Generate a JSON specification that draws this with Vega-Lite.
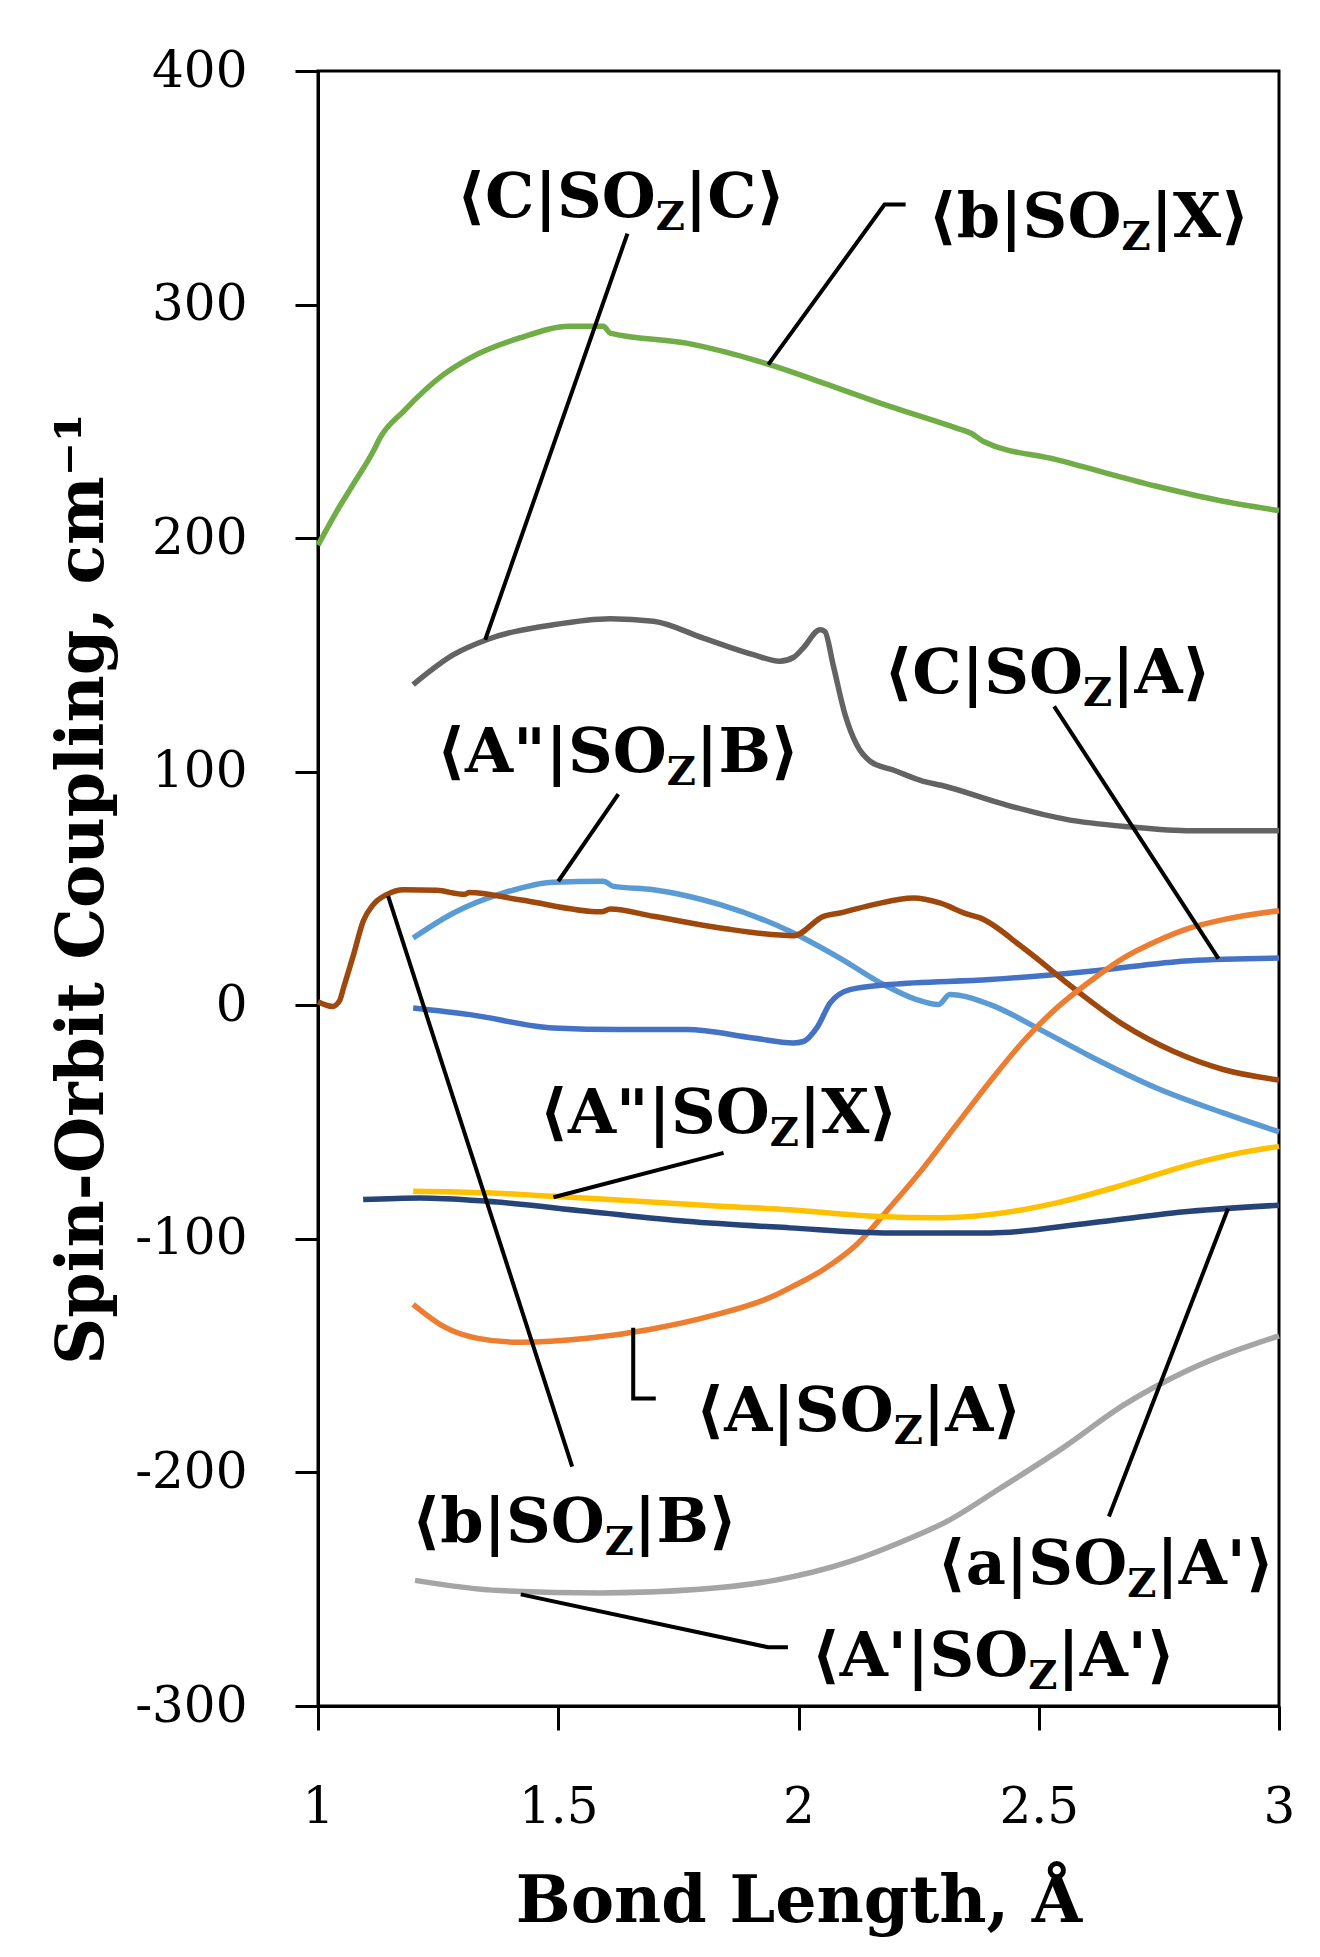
{
  "$schema": "https://vega.github.io/schema/vega-lite/v6.json",
  "autosize": {"type": "none"},
  "width": 961,
  "height": 1635,
  "padding": {"left": 318, "top": 71, "right": 41, "bottom": 251},
  "background": "white",
  "config": {
    "view": {"stroke": "black", "strokeWidth": 3},
    "axis": {
      "grid": false,
      "domainColor": "black",
      "domainWidth": 3,
      "tickColor": "black",
      "tickWidth": 3,
      "tickSize": 23,
      "labelFont": "DejaVu Serif",
      "labelFontSize": 50,
      "labelColor": "black",
      "labelFlush": false,
      "titleFont": "DejaVu Serif",
      "titleFontSize": 65,
      "titleFontWeight": "bold",
      "titleColor": "black"
    }
  },
  "datasets": {
    "curves": [
      {"s": "bX", "x": 1.0, "y": 197}, {"s": "bX", "x": 1.039, "y": 211.5}, {"s": "bX", "x": 1.073, "y": 222.9},
      {"s": "bX", "x": 1.115, "y": 237.2}, {"s": "bX", "x": 1.129, "y": 242.9}, {"s": "bX", "x": 1.178, "y": 254.3},
      {"s": "bX", "x": 1.261, "y": 270.0}, {"s": "bX", "x": 1.316, "y": 277.1}, {"s": "bX", "x": 1.42, "y": 285.7},
      {"s": "bX", "x": 1.524, "y": 290.7}, {"s": "bX", "x": 1.594, "y": 290.7}, {"s": "bX", "x": 1.608, "y": 287.8},
      {"s": "bX", "x": 1.767, "y": 283.5}, {"s": "bX", "x": 1.94, "y": 274.3}, {"s": "bX", "x": 2.052, "y": 266.4},
      {"s": "bX", "x": 2.19, "y": 256.4}, {"s": "bX", "x": 2.329, "y": 247.1}, {"s": "bX", "x": 2.36, "y": 244.8},
      {"s": "bX", "x": 2.385, "y": 241.4}, {"s": "bX", "x": 2.537, "y": 233.6}, {"s": "bX", "x": 2.745, "y": 222.2},
      {"s": "bX", "x": 2.884, "y": 215.8}, {"s": "bX", "x": 3.0, "y": 211.8},

      {"s": "CC", "x": 1.198, "y": 137.3}, {"s": "CC", "x": 1.282, "y": 150.1}, {"s": "CC", "x": 1.351, "y": 156.5},
      {"s": "CC", "x": 1.49, "y": 162.9}, {"s": "CC", "x": 1.608, "y": 165.5}, {"s": "CC", "x": 1.698, "y": 164.4},
      {"s": "CC", "x": 1.802, "y": 157.2}, {"s": "CC", "x": 1.906, "y": 150.1}, {"s": "CC", "x": 1.961, "y": 147.3},
      {"s": "CC", "x": 1.99, "y": 149.0}, {"s": "CC", "x": 2.01, "y": 153.0}, {"s": "CC", "x": 2.045, "y": 160.8},
      {"s": "CC", "x": 2.055, "y": 160.0}, {"s": "CC", "x": 2.072, "y": 145.8}, {"s": "CC", "x": 2.097, "y": 124.4},
      {"s": "CC", "x": 2.121, "y": 111.6}, {"s": "CC", "x": 2.149, "y": 104.5}, {"s": "CC", "x": 2.2, "y": 100.5},
      {"s": "CC", "x": 2.26, "y": 95.9}, {"s": "CC", "x": 2.297, "y": 94.2}, {"s": "CC", "x": 2.427, "y": 86.1},
      {"s": "CC", "x": 2.557, "y": 79.6}, {"s": "CC", "x": 2.688, "y": 76.4}, {"s": "CC", "x": 2.818, "y": 74.7},
      {"s": "CC", "x": 3.0, "y": 74.7},

      {"s": "AB", "x": 1.198, "y": 28.8}, {"s": "AB", "x": 1.282, "y": 39.5}, {"s": "AB", "x": 1.386, "y": 48.1},
      {"s": "AB", "x": 1.49, "y": 52.7}, {"s": "AB", "x": 1.594, "y": 53.1}, {"s": "AB", "x": 1.615, "y": 50.9},
      {"s": "AB", "x": 1.698, "y": 49.5}, {"s": "AB", "x": 1.837, "y": 43.1}, {"s": "AB", "x": 1.982, "y": 31.7},
      {"s": "AB", "x": 2.086, "y": 20.2}, {"s": "AB", "x": 2.177, "y": 8.9}, {"s": "AB", "x": 2.246, "y": 2.4},
      {"s": "AB", "x": 2.291, "y": 0.3}, {"s": "AB", "x": 2.315, "y": 4.6}, {"s": "AB", "x": 2.399, "y": 0.3},
      {"s": "AB", "x": 2.503, "y": -10.4}, {"s": "AB", "x": 2.607, "y": -21.8}, {"s": "AB", "x": 2.745, "y": -35.4},
      {"s": "AB", "x": 2.884, "y": -46.1}, {"s": "AB", "x": 3.0, "y": -54.2},

      {"s": "CA", "x": 1.198, "y": -1.2}, {"s": "CA", "x": 1.316, "y": -4.0}, {"s": "CA", "x": 1.49, "y": -9.7},
      {"s": "CA", "x": 1.628, "y": -10.4}, {"s": "CA", "x": 1.767, "y": -10.4}, {"s": "CA", "x": 1.906, "y": -14.0},
      {"s": "CA", "x": 1.989, "y": -16.1}, {"s": "CA", "x": 2.01, "y": -15.5}, {"s": "CA", "x": 2.038, "y": -9.7},
      {"s": "CA", "x": 2.066, "y": 1.0}, {"s": "CA", "x": 2.107, "y": 6.7}, {"s": "CA", "x": 2.19, "y": 8.9},
      {"s": "CA", "x": 2.399, "y": 11.0}, {"s": "CA", "x": 2.607, "y": 14.6}, {"s": "CA", "x": 2.815, "y": 19.1},
      {"s": "CA", "x": 3.0, "y": 20.2},

      {"s": "bB", "x": 1.0, "y": 1.5}, {"s": "bB", "x": 1.03, "y": -0.5}, {"s": "bB", "x": 1.045, "y": 2.0},
      {"s": "bB", "x": 1.053, "y": 7.4}, {"s": "bB", "x": 1.074, "y": 21.7}, {"s": "bB", "x": 1.094, "y": 36.0},
      {"s": "bB", "x": 1.115, "y": 43.1}, {"s": "bB", "x": 1.143, "y": 47.4}, {"s": "bB", "x": 1.178, "y": 49.5},
      {"s": "bB", "x": 1.247, "y": 49.2}, {"s": "bB", "x": 1.305, "y": 47.5}, {"s": "bB", "x": 1.315, "y": 48.3},
      {"s": "bB", "x": 1.42, "y": 45.2}, {"s": "bB", "x": 1.59, "y": 40.0}, {"s": "bB", "x": 1.608, "y": 41.2},
      {"s": "bB", "x": 1.698, "y": 38.1}, {"s": "bB", "x": 1.837, "y": 33.1}, {"s": "bB", "x": 1.99, "y": 29.8},
      {"s": "bB", "x": 2.052, "y": 38.1}, {"s": "bB", "x": 2.086, "y": 39.5}, {"s": "bB", "x": 2.156, "y": 43.1},
      {"s": "bB", "x": 2.239, "y": 45.9}, {"s": "bB", "x": 2.294, "y": 43.8}, {"s": "bB", "x": 2.35, "y": 39.1},
      {"s": "bB", "x": 2.378, "y": 37.4}, {"s": "bB", "x": 2.468, "y": 24.5}, {"s": "bB", "x": 2.572, "y": 7.4},
      {"s": "bB", "x": 2.676, "y": -8.3}, {"s": "bB", "x": 2.78, "y": -19.7}, {"s": "bB", "x": 2.884, "y": -27.5},
      {"s": "bB", "x": 3.0, "y": -32.0},

      {"s": "AA", "x": 1.198, "y": -128.1}, {"s": "AA", "x": 1.261, "y": -137.5}, {"s": "AA", "x": 1.33, "y": -142.5},
      {"s": "AA", "x": 1.42, "y": -144.3}, {"s": "AA", "x": 1.56, "y": -142.6}, {"s": "AA", "x": 1.69, "y": -138.8},
      {"s": "AA", "x": 1.82, "y": -132.9}, {"s": "AA", "x": 1.95, "y": -124.3}, {"s": "AA", "x": 1.982, "y": -121.0},
      {"s": "AA", "x": 2.052, "y": -113.1}, {"s": "AA", "x": 2.121, "y": -102.4}, {"s": "AA", "x": 2.19, "y": -86.6},
      {"s": "AA", "x": 2.26, "y": -69.6}, {"s": "AA", "x": 2.329, "y": -51.1}, {"s": "AA", "x": 2.399, "y": -32.5},
      {"s": "AA", "x": 2.468, "y": -15.4}, {"s": "AA", "x": 2.537, "y": -1.2}, {"s": "AA", "x": 2.607, "y": 10.3},
      {"s": "AA", "x": 2.676, "y": 20.2}, {"s": "AA", "x": 2.745, "y": 27.4}, {"s": "AA", "x": 2.815, "y": 33.1},
      {"s": "AA", "x": 2.884, "y": 36.7}, {"s": "AA", "x": 3.0, "y": 40.5},

      {"s": "AX", "x": 1.198, "y": -79.6}, {"s": "AX", "x": 1.351, "y": -80.3}, {"s": "AX", "x": 1.49, "y": -81.8},
      {"s": "AX", "x": 1.608, "y": -83.2}, {"s": "AX", "x": 1.837, "y": -86.0}, {"s": "AX", "x": 1.982, "y": -87.5},
      {"s": "AX", "x": 2.156, "y": -90.3}, {"s": "AX", "x": 2.294, "y": -91.0}, {"s": "AX", "x": 2.399, "y": -89.6},
      {"s": "AX", "x": 2.537, "y": -84.6}, {"s": "AX", "x": 2.676, "y": -76.9}, {"s": "AX", "x": 2.815, "y": -68.2},
      {"s": "AX", "x": 2.919, "y": -63.2}, {"s": "AX", "x": 3.0, "y": -60.4},

      {"s": "aA", "x": 1.094, "y": -83.2}, {"s": "aA", "x": 1.212, "y": -82.5}, {"s": "aA", "x": 1.351, "y": -83.9},
      {"s": "aA", "x": 1.559, "y": -88.2}, {"s": "aA", "x": 1.767, "y": -92.5}, {"s": "aA", "x": 1.982, "y": -95.3},
      {"s": "aA", "x": 2.19, "y": -97.5}, {"s": "aA", "x": 2.399, "y": -97.5}, {"s": "aA", "x": 2.607, "y": -93.2},
      {"s": "aA", "x": 2.815, "y": -88.2}, {"s": "aA", "x": 3.0, "y": -85.6},

      {"s": "PP", "x": 1.202, "y": -246.2}, {"s": "PP", "x": 1.378, "y": -250.6}, {"s": "PP", "x": 1.586, "y": -251.6},
      {"s": "PP", "x": 1.794, "y": -250.0}, {"s": "PP", "x": 1.95, "y": -246.2}, {"s": "PP", "x": 2.106, "y": -238.2},
      {"s": "PP", "x": 2.21, "y": -230.1}, {"s": "PP", "x": 2.314, "y": -220.4}, {"s": "PP", "x": 2.418, "y": -207.0},
      {"s": "PP", "x": 2.548, "y": -189.8}, {"s": "PP", "x": 2.678, "y": -171.0}, {"s": "PP", "x": 2.808, "y": -156.5},
      {"s": "PP", "x": 3.0, "y": -141.5}
    ],
    "leaders": [
      {"id": 1, "o": 1, "x": 1.644, "y": 330.4}, {"id": 1, "o": 2, "x": 1.348, "y": 156.5},
      {"id": 2, "o": 1, "x": 2.223, "y": 342.8}, {"id": 2, "o": 2, "x": 2.179, "y": 342.8}, {"id": 2, "o": 3, "x": 1.937, "y": 274.3},
      {"id": 3, "o": 1, "x": 2.532, "y": 128.0}, {"id": 3, "o": 2, "x": 2.874, "y": 20.0},
      {"id": 4, "o": 1, "x": 1.625, "y": 90.4}, {"id": 4, "o": 2, "x": 1.5, "y": 53.1},
      {"id": 5, "o": 1, "x": 1.844, "y": -63.2}, {"id": 5, "o": 2, "x": 1.49, "y": -82.2},
      {"id": 6, "o": 1, "x": 1.656, "y": -138.1}, {"id": 6, "o": 2, "x": 1.656, "y": -168.3}, {"id": 6, "o": 3, "x": 1.703, "y": -168.3},
      {"id": 7, "o": 1, "x": 1.146, "y": 46.7}, {"id": 7, "o": 2, "x": 1.529, "y": -197.5},
      {"id": 8, "o": 1, "x": 2.894, "y": -87.0}, {"id": 8, "o": 2, "x": 2.646, "y": -218.9},
      {"id": 9, "o": 1, "x": 1.422, "y": -252.2}, {"id": 9, "o": 2, "x": 1.936, "y": -274.8}, {"id": 9, "o": 3, "x": 1.978, "y": -274.8}
    ],
    "labels": [
      {"x": 1.703, "y": 337.4, "pre": "⟨C|SO", "post": "|C⟩"},
      {"x": 2.672, "y": 328.8, "pre": "⟨b|SO", "post": "|X⟩"},
      {"x": 2.592, "y": 133.7, "pre": "⟨C|SO", "post": "|A⟩"},
      {"x": 1.726, "y": 100.0, "pre": "⟨A\"|SO", "post": "|B⟩"},
      {"x": 1.94, "y": -54.5, "pre": "⟨A\"|SO", "post": "|X⟩"},
      {"x": 2.198, "y": -182.4, "pre": "⟨A|SO", "post": "|A⟩"},
      {"x": 1.597, "y": -229.7, "pre": "⟨b|SO", "post": "|B⟩"},
      {"x": 2.684, "y": -247.9, "pre": "⟨a|SO", "post": "|A'⟩"},
      {"x": 2.478, "y": -287.2, "pre": "⟨A'|SO", "post": "|A'⟩"}
    ]
  },
  "layer": [
    {
      "data": {"name": "curves"},
      "mark": {"type": "line", "strokeWidth": 5.5, "interpolate": "monotone"},
      "encoding": {
        "x": {
          "field": "x", "type": "quantitative",
          "scale": {"domain": [1, 3], "nice": false, "zero": false},
          "axis": {
            "values": [1, 1.5, 2, 2.5, 3],
            "labelExpr": "toString(datum.value)",
            "labelPadding": 52,
            "tickSize": 24,
            "title": "Bond Length, Å",
            "titlePadding": 38
          }
        },
        "y": {
          "field": "y", "type": "quantitative",
          "scale": {"domain": [-300, 400], "nice": false, "zero": false},
          "axis": {
            "values": [-300, -200, -100, 0, 100, 200, 300, 400],
            "labelExpr": "toString(datum.value)",
            "labelPadding": 48,
            "title": "Spin-Orbit Coupling, cm⁻¹",
            "titlePadding": 18
          }
        },
        "color": {
          "field": "s", "type": "nominal", "legend": null,
          "scale": {
            "domain": ["bX", "CC", "AB", "CA", "bB", "AA", "AX", "aA", "PP"],
            "range": ["#70AD47", "#636363", "#5B9BD5", "#4472C4", "#9E480E", "#ED7D31", "#FFC000", "#264478", "#A5A5A5"]
          }
        }
      }
    },
    {
      "data": {"name": "leaders"},
      "mark": {"type": "line", "color": "black", "strokeWidth": 4},
      "encoding": {
        "x": {"field": "x", "type": "quantitative"},
        "y": {"field": "y", "type": "quantitative"},
        "detail": {"field": "id", "type": "nominal"},
        "order": {"field": "o", "type": "quantitative"}
      }
    },
    {
      "data": {"name": "labels"},
      "mark": {"type": "text", "font": "DejaVu Serif", "fontWeight": "bold", "fontSize": 62, "align": "right", "baseline": "alphabetic", "color": "black"},
      "encoding": {
        "x": {"field": "x", "type": "quantitative"},
        "y": {"field": "y", "type": "quantitative"},
        "text": {"field": "pre"}
      }
    },
    {
      "data": {"name": "labels"},
      "mark": {"type": "text", "font": "DejaVu Serif", "fontWeight": "bold", "fontSize": 40, "align": "left", "baseline": "alphabetic", "dy": 13, "text": "Z", "color": "black"},
      "encoding": {
        "x": {"field": "x", "type": "quantitative"},
        "y": {"field": "y", "type": "quantitative"}
      }
    },
    {
      "data": {"name": "labels"},
      "mark": {"type": "text", "font": "DejaVu Serif", "fontWeight": "bold", "fontSize": 62, "align": "left", "baseline": "alphabetic", "dx": 29, "color": "black"},
      "encoding": {
        "x": {"field": "x", "type": "quantitative"},
        "y": {"field": "y", "type": "quantitative"},
        "text": {"field": "post"}
      }
    }
  ]
}
